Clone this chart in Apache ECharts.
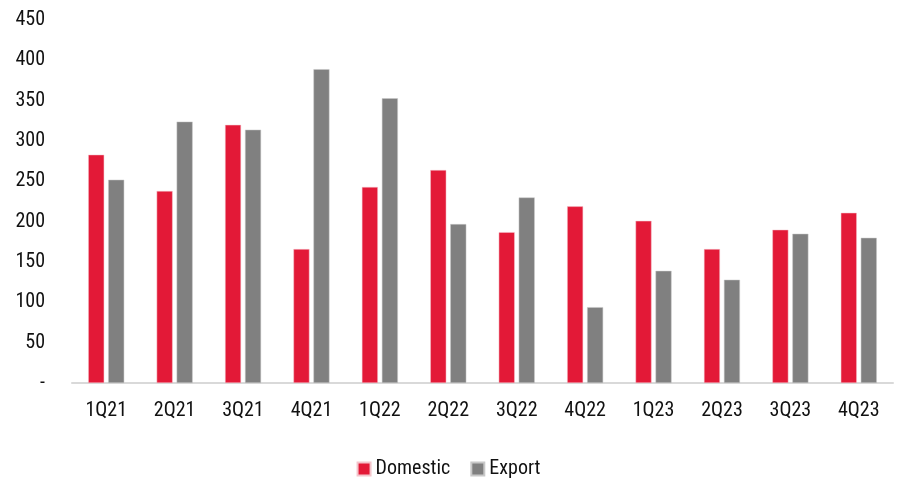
<!DOCTYPE html>
<html><head><meta charset="utf-8">
<script src="https://cdn.jsdelivr.net/npm/echarts@6/dist/echarts.min.js"></script>
<style>html,body{margin:0;padding:0;background:#fff}#c{width:897px;height:478px}</style>
</head><body><div id="c"></div>
<script>
const categories = ['1Q21','2Q21','3Q21','4Q21','1Q22','2Q22','3Q22','4Q22','1Q23','2Q23','3Q23','4Q23'];
const domestic = [283, 238, 320, 166, 243, 264, 187, 219, 201, 166, 190, 211];
const exportVals = [252, 324, 314, 389, 353, 197, 230, 94, 139, 128, 185, 180];
const FONT = '"Liberation Sans Narrow", "Roboto Condensed", "Arial Narrow", Roboto, sans-serif';
const chart = echarts.init(document.getElementById('c'));
chart.setOption({
  animation: false,
  grid: {left: 72, right: 4, top: 20, bottom: 95},
  legend: {
    top: 454, left: 'center', itemWidth: 13, itemHeight: 13, itemGap: 20,
    icon: 'rect',
    textStyle: {fontFamily: FONT, fontSize: 20, color: '#111'},
    data: ['Domestic', 'Export']
  },
  xAxis: {
    type: 'category', data: categories,
    axisLine: {lineStyle: {color: '#d9d9d9', width: 2}},
    axisTick: {show: false},
    axisLabel: {fontFamily: FONT, fontSize: 20, color: '#111', margin: 18}
  },
  yAxis: {
    type: 'value', min: 0, max: 450, interval: 50,
    splitLine: {show: false},
    axisLine: {show: false}, axisTick: {show: false},
    axisLabel: {fontFamily: FONT, fontSize: 20, color: '#111', margin: 27,
      formatter: v => v === 0 ? '-' : String(v)}
  },
  series: [
    {name: 'Domestic', type: 'bar', data: domestic, barWidth: 16, barGap: '25%',
     itemStyle: {color: '#E31937', borderColor: '#f4c5cc', borderWidth: 0.5}},
    {name: 'Export', type: 'bar', data: exportVals, barWidth: 16,
     itemStyle: {color: '#808080', borderColor: '#c8c8c8', borderWidth: 0.5}}
  ]
});
</script></body></html>
